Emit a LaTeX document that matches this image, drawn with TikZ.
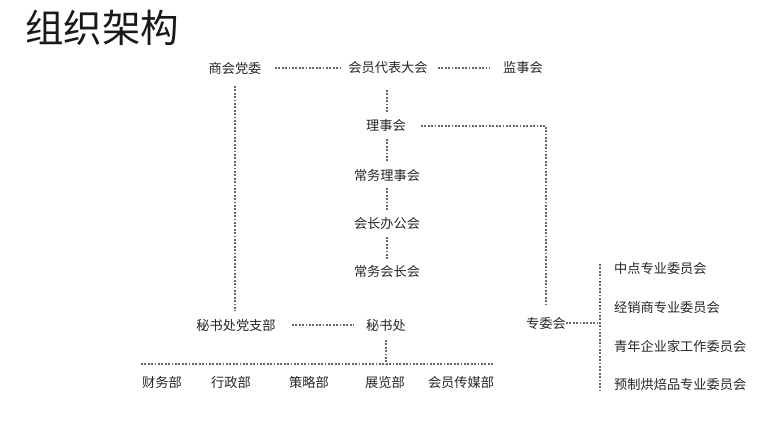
\documentclass[tikz,border=0pt]{standalone}
\usepackage{fontspec}
\setmainfont{Noto Sans CJK SC}
\begin{document}
\begin{tikzpicture}[x=1pt,y=-1pt,
  lbl/.style={inner sep=1pt,font=\fontsize{13.2}{15}\selectfont,text=black!85},
  dotline/.style={draw=black!60,line width=2pt,dash pattern=on 1.8pt off 1.6pt}]
\useasboundingbox[fill=white] (0,0) rectangle (779,438);
\node[inner sep=0pt,font=\fontsize{38.5}{42}\selectfont,text=black!90] (title) at (102,28) {组织架构};
\node[lbl] (dw) at (235,68) {商会党委};
\node[lbl] (hy) at (388,68) {会员代表大会};
\node[lbl] (js) at (523,68) {监事会};
\node[lbl] (ls) at (386,126) {理事会};
\node[lbl] (cwls) at (387,175) {常务理事会};
\node[lbl] (hz) at (387,224) {会长办公会};
\node[lbl] (cwhz) at (387,271) {常务会长会};
\node[lbl] (zb) at (236,325) {秘书处党支部};
\node[lbl] (ms) at (386,325) {秘书处};
\node[lbl] (zw) at (546,323) {专委会};
\node[lbl] (b1) at (162,382) {财务部};
\node[lbl] (b2) at (231,382) {行政部};
\node[lbl] (b3) at (309,382) {策略部};
\node[lbl] (b4) at (385,382) {展览部};
\node[lbl] (b5) at (461,382) {会员传媒部};
\node[lbl,anchor=west] (r1) at (613,268) {中点专业委员会};
\node[lbl,anchor=west] (r2) at (613,307) {经销商专业委员会};
\node[lbl,anchor=west] (r3) at (613,346) {青年企业家工作委员会};
\node[lbl,anchor=west] (r4) at (613,384) {预制烘焙品专业委员会};
\coordinate (c1) at (546,126);
\coordinate (bl) at (141,364);
\coordinate (br) at (493,364);
\coordinate (bm) at (386,364);
\coordinate (rt) at (600,264);
\coordinate (rb) at (600,390);
\coordinate (rm) at (600,323);
\draw[dotline] (275,68) -- (341,68);
\draw[dotline] (438,68) -- (490,68);
\draw[dotline] (235,86) -- (235,311);
\draw[dotline] (387,90) -- (387,112);
\draw[dotline] (421,126) -- (c1) -- (546,306);
\draw[dotline] (387,139) -- (387,161);
\draw[dotline] (387,188) -- (387,210);
\draw[dotline] (387,237) -- (387,259);
\draw[dotline] (292,325) -- (354,325);
\draw[dotline] (386,340) -- (bm);
\draw[dotline] (bl) -- (br);
\draw[dotline] (566,323) -- (rm);
\draw[dotline] (rt) -- (rb);
\end{tikzpicture}
\end{document}
